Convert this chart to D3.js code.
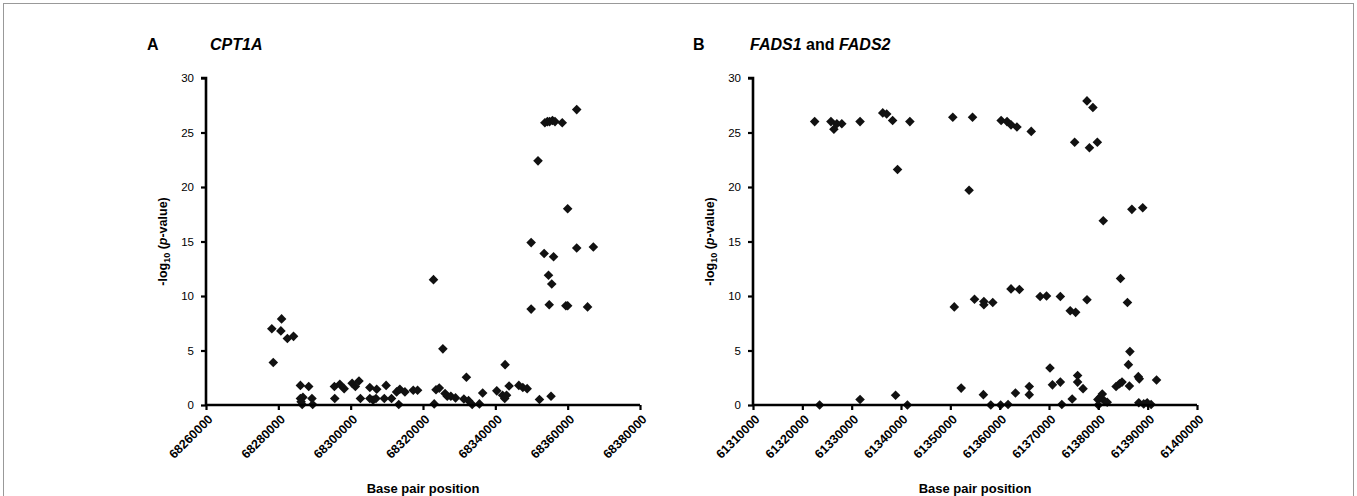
<!DOCTYPE html>
<html><head><meta charset="utf-8">
<script src="https://cdn.jsdelivr.net/npm/d3@7"></script>
<style>body{margin:0;background:#fff}svg{display:block}</style>
</head><body>
<svg id="c" width="1357" height="496"></svg>
<script>
// Panel A data: CPT1A (base pair position, -log10 p)
const posA = [68278200,68278600,68280900,68280700,68282500,68284200,68286100,68288400,68286100,68286800,68286300,68286600,68289300,68289500,
68295600,68295500,68297000,68298200,68300400,68301300,68302300,68302700,68305300,68305300,68306200,68307200,68307000,68309800,68309300,68311300,68313300,68312700,68313600,68315000,68317300,68318500,
68322900,68323100,68323600,68324500,68325500,68326100,68326700,68327700,68329000,68332000,68331300,68332600,68333600,68335600,68336500,
68340400,68342000,68343100,68342600,68342700,68343800,68346500,68347600,68348800,68352200,68355400,
68349900,68349900,68351800,68353700,68354400,68355000,68355800,68356500,68358500,68353500,68356100,68354700,68355600,68354900,68359500,68360000,68360000,68362500,68362500,68365500,68367100];
const pvalA = [7.0,3.9,7.9,6.8,6.1,6.3,1.8,1.7,0.6,0.7,0.3,0.05,0.6,0.05,
0.6,1.7,1.9,1.5,2.0,1.7,2.2,0.6,1.6,0.6,0.45,1.45,0.6,1.8,0.6,0.6,0.05,1.2,1.45,1.2,1.35,1.35,
11.5,0.1,1.4,1.55,5.15,1.05,0.8,0.8,0.65,2.55,0.55,0.4,0.05,0.1,1.1,
1.3,0.9,0.9,0.6,3.7,1.75,1.8,1.6,1.5,0.5,0.8,
8.8,14.9,22.4,25.9,26.0,26.0,26.1,26.0,25.9,13.9,13.6,11.9,11.1,9.2,9.1,9.1,18.0,14.4,27.1,9.0,14.5];

// Panel B data: FADS1 and FADS2
const posB = [61322500,61323500,61325800,61326400,61327000,61328000,61331700,61331700,61336300,61337100,61338300,61339300,61338900,61341300,61341800,
61350500,61350800,61352200,61353800,61354500,61354900,61356800,61356800,61358600,61356700,61358200,61360200,61361700,
61360300,61361500,61362300,61363500,61366400,61362300,61364000,61363200,61366000,61366000,
61368200,61369500,61370200,61370700,61372300,61372300,61372600,61374300,61375400,61374700,61375800,61375800,61376900,61377700,
61375200,61378200,61379800,61377700,61378900,61381000,61379900,61380400,61380800,61380000,61381300,61381800,
61383600,61384300,61384800,61384500,61385900,61386400,61386100,61386300,61386800,61389000,61388100,61388300,61388200,61389900,61390700,61391800,61389200];
const pvalB = [26.0,0.0,26.0,25.3,25.8,25.8,26.0,0.5,26.8,26.7,26.1,21.6,0.9,0.0,26.0,
26.4,9.0,1.55,19.7,26.4,9.7,9.5,9.2,9.4,0.95,0.0,0.0,0.05,
26.1,26.0,25.7,25.5,25.1,10.65,10.6,1.1,1.7,0.95,
9.95,10.0,3.4,1.85,9.95,2.1,0.05,8.65,8.5,0.55,2.7,2.1,1.5,9.65,
24.1,23.6,24.1,27.9,27.3,16.9,0.5,0.7,1.0,0.0,0.35,0.25,
1.7,1.95,2.1,11.6,9.4,4.9,3.7,1.75,17.95,18.1,2.6,2.4,0.2,0.2,0.05,2.3,0.1];

const yTicks = [0,5,10,15,20,25,30];
const xTicksA = [68260000,68280000,68300000,68320000,68340000,68360000,68380000];
const xTicksB = [61310000,61320000,61330000,61340000,61350000,61360000,61370000,61380000,61390000,61400000];

const svg = d3.select("#c");
svg.append("rect").attr("x",3.5).attr("y",3.5).attr("width",1350).attr("height",520)
  .attr("fill","none").attr("stroke","#999").attr("stroke-width",1);

const FONT = "Liberation Sans, Arial, sans-serif";

function panel(cfg){
  const x = d3.scaleLinear().domain(cfg.xdom).range(cfg.xr);
  const y = d3.scaleLinear().domain([0,30]).range([405,78]);
  const g = svg.append("g");

  // points
  const sym = d3.symbol().type(d3.symbolSquare).size(46);
  g.selectAll("path.pt").data(cfg.pos.map((p,i)=>[p,cfg.val[i]])).join("path")
    .attr("class","pt")
    .attr("d",sym)
    .attr("transform",d=>`translate(${x(d[0])},${y(d[1])}) rotate(45)`)
    .attr("fill","#111");

  // y axis
  const ya = g.append("g").attr("transform",`translate(${cfg.xr[0]},0)`)
    .call(d3.axisLeft(y).tickValues(yTicks).tickSize(5).tickPadding(7).tickFormat(d3.format("d")));
  ya.select(".domain").attr("stroke","#000").attr("stroke-width",2.6).attr("d",`M-5,${y(30)}H0V${y(0)}`);
  ya.selectAll(".tick line").attr("stroke","#000").attr("stroke-width",2.2);
  ya.selectAll("text").attr("font-family",FONT).attr("font-size",11.5).attr("fill","#000");

  // x axis
  const xa = g.append("g").attr("transform",`translate(0,405)`)
    .call(d3.axisBottom(x).tickValues(cfg.xticks).tickSize(5).tickFormat(d3.format("d")));
  xa.select(".domain").attr("stroke","#000").attr("stroke-width",2.6).attr("d",`M${cfg.xr[0]},0H${cfg.xr[1]}`);
  xa.selectAll(".tick line").attr("stroke","#000").attr("stroke-width",2.2);
  xa.selectAll("text").attr("font-family",FONT).attr("font-size",12.5).attr("font-weight","bold").attr("fill","#000")
    .attr("text-anchor","end").attr("dy",0).attr("y",0)
    .attr("transform","translate(7,15) rotate(-45)");

  // axis titles
  g.append("text").attr("x",(cfg.xr[0]+cfg.xr[1])/2).attr("y",493).attr("text-anchor","middle")
    .attr("font-family",FONT).attr("font-size",13).attr("font-weight","bold").text("Base pair position");
  const yl = g.append("text").attr("transform",`translate(${cfg.xr[0]-39},${(y(0)+y(30))/2}) rotate(-90)`)
    .attr("text-anchor","middle").attr("font-family",FONT).attr("font-size",12.5).attr("font-weight","bold");
  yl.append("tspan").text("-log");
  yl.append("tspan").attr("font-size",9).attr("dy",3).text("10");
  yl.append("tspan").attr("dy",-3).text(" (");
  yl.append("tspan").attr("font-style","italic").text("p");
  yl.append("tspan").text("-value)");

  // panel titles
  g.append("text").attr("x",cfg.lx).attr("y",50).attr("font-family",FONT).attr("font-size",16).attr("font-weight","bold").text(cfg.letter);
  const t = g.append("text").attr("x",cfg.tx).attr("y",50).attr("font-family",FONT).attr("font-size",16).attr("font-weight","bold");
  cfg.title.forEach(s=>t.append("tspan").attr("font-style",s[1]?"italic":"normal").text(s[0]));
}

panel({xdom:[68260000,68380000], xr:[206,640], pos:posA, val:pvalA, xticks:xTicksA,
  letter:"A", lx:147, tx:210, title:[["CPT1A",true]]});
panel({xdom:[61310000,61400000], xr:[753,1197], pos:posB, val:pvalB, xticks:xTicksB,
  letter:"B", lx:693, tx:750, title:[["FADS1",true],[" and ",false],["FADS2",true]]});
</script>
</body></html>
